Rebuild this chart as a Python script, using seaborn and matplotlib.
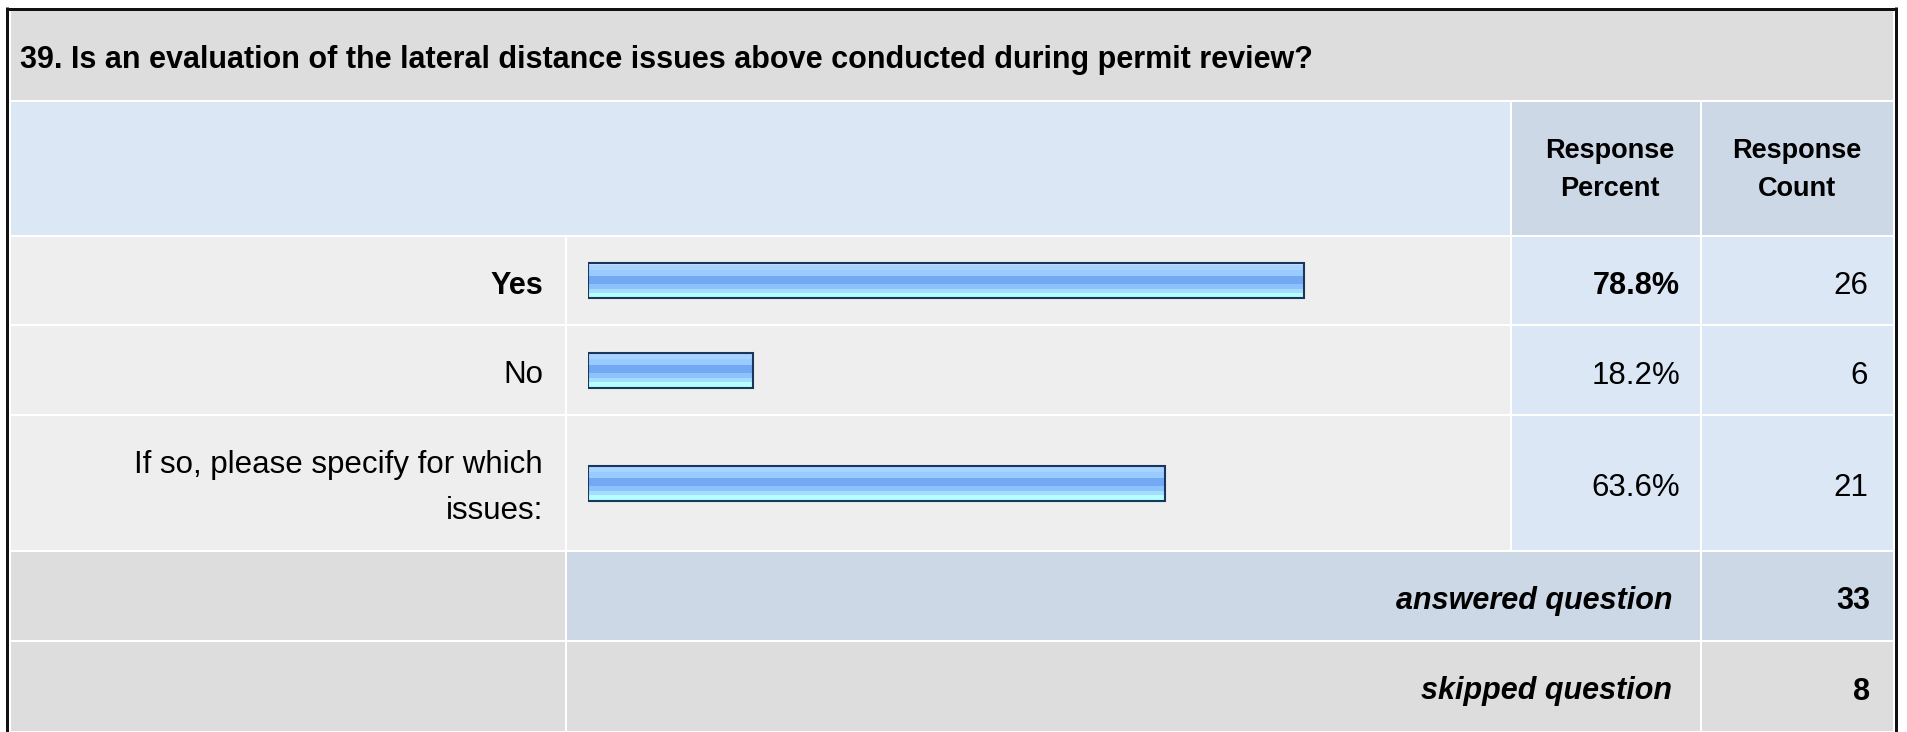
import numpy as np
import matplotlib.pyplot as plt
import matplotlib.colors as mcolors
import seaborn as sns
from matplotlib.patches import Rectangle

question = "39. Is an evaluation of the lateral distance issues above conducted during permit review?"
answers = ["Yes", "No", "If so, please specify for which\nissues:"]
percents = [78.8, 18.2, 63.6]
counts = [26, 6, 21]
headers = ["Response\nPercent", "Response\nCount"]
total_labels = ["answered question", "skipped question"]
totals = [33, 8]

sns.set_theme(style="white")
plt.rcParams['font.family'] = ['Liberation Sans', 'DejaVu Sans']

W, H = 1907, 732
GRAY = '#dddddd'
LIGHT = '#eeeeee'
BLUE = '#dce7f5'
BLUE2 = '#ccd8e6'
FS = 22.5
FS_BOLD = 22
FS_HEAD = 19.5

fig = plt.figure(figsize=(W / 100, H / 100), dpi=100)
base = fig.add_axes([0, 0, 1, 1])
base.set_xlim(0, W)
base.set_ylim(H, 0)
base.axis('off')

# cell extents in pixels
cols = [(11, 565), (567, 1510), (1512, 1700), (1702, 1893)]
title_row = (11, 100)
head_row = (102, 235)
rows = [(237, 324), (326, 414), (416, 550)]
total_rows = [(552, 640), (642, 731)]


def cell(x, y, color):
    base.add_patch(Rectangle((x[0], y[0]), x[1] - x[0], y[1] - y[0], facecolor=color, lw=0))


def txt(x, y, s, **kw):
    size = kw.pop('fontsize', FS_BOLD if kw.get('fontweight') == 'bold' else FS)
    base.text(x, y, s, fontsize=size, va='baseline', color='black', **kw)


# title + header
cell((cols[0][0], cols[3][1]), title_row, GRAY)
txt(20, 68, question, fontweight='bold', ha='left')
cell((cols[0][0], cols[1][1]), head_row, BLUE)
for c, hdr, cx in zip(cols[2:], headers, [1610, 1797]):
    cell(c, head_row, BLUE2)
    for i, line in enumerate(hdr.split('\n')):
        txt(cx, 158 + 38 * i, line, fontsize=FS_HEAD, fontweight='bold', ha='center')

# answer rows
top = int(np.argmax(percents))
for i, ((y0, y1), ans, pct, n) in enumerate(zip(rows, answers, percents, counts)):
    for c, col in zip(cols, [LIGHT, LIGHT, BLUE, BLUE]):
        cell(c, (y0, y1), col)
    mid = (y0 + y1) / 2
    weight = 'bold' if i == top else 'normal'
    lines = ans.split('\n')
    for j, line in enumerate(lines):
        txt(543, mid + 13 + (j - (len(lines) - 1) / 2) * 46, line, ha='right', fontweight=weight)
    txt(1680, mid + 13.5, f"{pct:.1f}%", ha='right', fontweight=weight)
    txt(1868, mid + 13.5, str(n), ha='right')

# answered / skipped
for (y0, y1), lab, n, col in zip(total_rows, total_labels, totals, [BLUE2, GRAY]):
    cell(cols[0], (y0, y1), GRAY)
    cell((cols[1][0], cols[2][1]), (y0, y1), col)
    cell(cols[3], (y0, y1), col)
    mid = (y0 + y1) / 2
    txt(1672, mid + 13, lab, ha='right', fontweight='bold', fontstyle='italic')
    txt(1870, mid + 13, str(n), ha='right', fontweight='bold')

# outer frame
frame = dict(color='#111111', lw=3 * 0.72, solid_capstyle='butt')
base.plot([7, 7], [7, H], **frame)
base.plot([5.5, 1897], [8.5, 8.5], **frame)
base.plot([1895.5, 1895.5], [7, H], **frame)

# bars, one small axes per row
grad_colors = ['#c8e3ff', '#a8d2ff', '#99cbff', '#72a9f2', '#8cc3fd', '#a6ddff', '#b4ffff']
grad_rows = [2, 4, 6, 7, 5, 3, 5]
grad = np.repeat(np.array([mcolors.to_rgb(c) for c in grad_colors]), grad_rows, axis=0)[:, None, :]

bar_left, bar_right = 588, 1496
for (y0, y1), ans, pct in zip(rows, answers, percents):
    ax = fig.add_axes([bar_left / W, 1 - y1 / H, (bar_right - bar_left) / W, (y1 - y0) / H])
    sns.barplot(x=[pct], y=[ans], orient='h', ax=ax, width=35 / (y1 - y0),
                color='#99cbff', edgecolor='#1b365d', linewidth=1.5)
    for p in ax.patches:
        z = p.get_zorder()
        x0, yb = p.get_x(), p.get_y()
        ax.imshow(grad, extent=(x0, x0 + p.get_width(), yb + p.get_height(), yb),
                  aspect='auto', interpolation='nearest', origin='upper', zorder=z + 0.5)
        p.set_facecolor('none')
        p.set_zorder(z + 1)
    ax.set_xlim(0, 100)
    ax.set_ylim(0.5, -0.5)
    ax.axis('off')

fig.savefig('out.png', dpi=100, facecolor='white')
